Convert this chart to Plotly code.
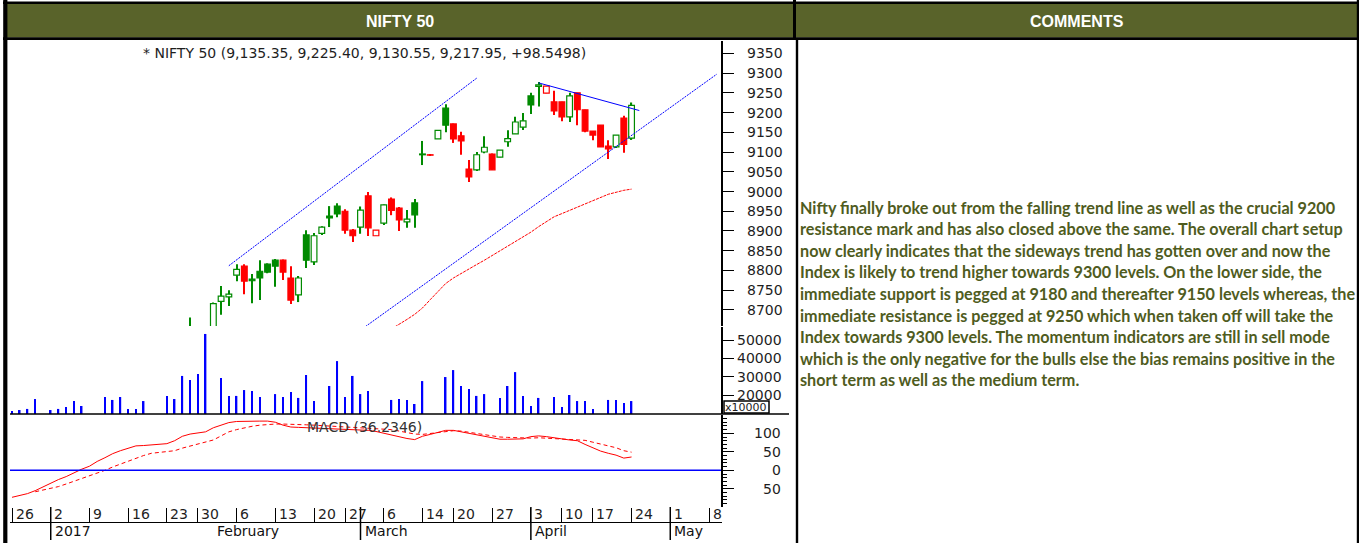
import pandas as pd
import plotly.graph_objects as go

W, H = 1359, 543

# ---------------- calendar (NSE trading days) ----------------
holidays = ["2017-01-26", "2017-02-24", "2017-03-13", "2017-04-04", "2017-04-14"]
axis_days = [d.strftime("%Y-%m-%d") for d in pd.bdate_range("2016-12-26", "2017-05-09")
             if d.strftime("%Y-%m-%d") not in holidays]
pos = {d: i for i, d in enumerate(axis_days)}

# ---------------- price data (Dec 26 2016 .. Apr 24 2017) ----------------
opens = [8114, 7915, 8047, 8036, 8120, 8210, 8196, 8202, 8226, 8282,
         8260, 8262, 8327, 8382, 8457, 8405, 8416, 8404, 8418, 8435,
         8329, 8409, 8499, 8610, 8632, 8629, 8570, 8722, 8733, 8788,
         8811, 8778, 8798, 8816, 8826, 8826, 8781, 8738, 8890, 8822,
         8894, 8938, 8963, 8950, 8902, 8910, 8989, 8888, 8920, 8981,
         8958, 8923, 8971, 9093, 9093, 9133, 9211, 9171, 9141, 9057,
         9055, 9100, 9095, 9087, 9126, 9146, 9163, 9242, 9266, 9249,
         9227, 9227, 9189, 9250, 9207, 9153, 9168, 9115, 9113, 9186,
         9135.35]
highs = [8117, 8045, 8063, 8108, 8197, 8212, 8219, 8218, 8282, 8306,
         8263, 8293, 8389, 8417, 8461, 8419, 8440, 8439, 8461, 8445,
         8404, 8480, 8612, 8681, 8655, 8640, 8719, 8761, 8750, 8816,
         8816, 8791, 8826, 8818, 8829, 8828, 8811, 8786, 8902, 8895,
         8912, 8963, 8970, 8955, 8905, 8962, 8999, 8902, 8967, 8985,
         8961, 8953, 8981, 9128, 9094, 9156, 9221, 9172, 9151, 9080,
         9100, 9140, 9096, 9105, 9155, 9189, 9199, 9250, 9277, 9267,
         9255, 9227, 9250, 9250, 9207, 9153, 9168, 9130, 9143, 9192,
         9225.40]
lows = [7894, 7905, 8021, 8026, 8115, 8134, 8148, 8180, 8224, 8233,
        8227, 8233, 8310, 8374, 8373, 8374, 8378, 8378, 8407, 8329,
        8327, 8398, 8486, 8606, 8580, 8550, 8537, 8688, 8710, 8773,
        8740, 8717, 8725, 8793, 8759, 8776, 8715, 8720, 8806, 8814,
        8890, 8910, 8935, 8893, 8872, 8893, 8887, 8888, 8915, 8940,
        8900, 8908, 8908, 9067, 9091, 9133, 9150, 9123, 9093, 9024,
        9052, 9097, 9055, 9087, 9113, 9146, 9156, 9196, 9215, 9249,
        9194, 9178, 9176, 9168, 9150, 9130, 9113, 9082, 9110, 9098,
        9130.55]
closes = [7908, 8032, 8034, 8103, 8185, 8179, 8192, 8190, 8273, 8243,
          8236, 8288, 8380, 8407, 8400, 8412, 8398, 8417, 8435, 8349,
          8391, 8475, 8602, 8641, 8632, 8561, 8716, 8735, 8740, 8803,
          8773, 8774, 8781, 8796, 8811, 8796, 8725, 8781, 8826, 8888,
          8910, 8933, 8943, 8902, 8888, 8953, 8908, 8902, 8966, 8952,
          8928, 8930, 8941, 9095, 9092, 9155, 9168, 9133, 9128, 9037,
          9093, 9112, 9055, 9105, 9134, 9176, 9179, 9219, 9270, 9267,
          9204, 9189, 9242, 9207, 9153, 9143, 9113, 9108, 9143, 9119.40,
          9217.95]
# volume (x10000 units on the axis)
volume = [11300, 11800, 12400, 17800, 9000, 11800, 12400, 13500, 16700, 14000,
          9000, 9000, 18900, 17300, 18900, 12400, 12400, 16700, 9000, 9000,
          19500, 17800, 30400, 28200, 31500, 53300, 9000, 29300, 19500, 19500,
          22700, 22200, 18900, 9000, 20500, 18900, 21600, 18400, 30900, 16700,
          9000, 24900, 38500, 18900, 30400, 20500, 22200, 9000, 9000, 17300,
          17800, 17300, 15100, 27600, 9000, 9000, 29800, 33600, 24900, 23300,
          19500, 20500, 9000, 18400, 24900, 32500, 19500, 14000, 18400, 9000,
          18900, 13500, 20000, 16700, 16700, 12400, 9000, 17300, 17300, 15700,
          16700]
macd = [-73, -69, -63, -55, -45, -33, -25, -17, -6, 3,
        11, 24, 34, 45, 53, 60, 66, 67, 68, 69,
        72, 80, 92, 98, 101, 104, 115, 123, 129, 132,
        133, 133, 133, 133, 130, 122, 117, 116, 115, 115,
        114, 114, 113, 112, 111, 109, 108, 105, 100, 95,
        91, 86, 83, 92, 97, 103, 108, 108, 104, 99,
        96, 91, 86, 84, 84, 84, 85, 91, 93, 91,
        87, 85, 82, 80, 70, 60, 52, 46, 41, 33,
        36]
signal = [None, None, None, -58, -54, -50, -44, -37, -30, -22,
          -14, -7, 0, 9, 17, 25, 33, 40, 46, 48,
          49, 53, 60, 66, 71, 77, 82, 93, 104, 110,
          115, 119, 122, 124, 125, 125, 125, 124, 123, 122,
          121, 120, 119, 118, 117, 116, 115, 114, 112, 110,
          106, 102, 98, 97, 99, 102, 105, 107, 106, 103,
          99, 95, 92, 90, 89, 88, 87, 87, 88, 87,
          86, 85, 84, 83, 81, 76, 71, 66, 61, 53,
          49]
macd_label = "MACD (36.2346)"

# moving average (red dotted), from Mar 7 onwards
ma_start = "2017-03-07"
ma_vals = [8652, 8663, 8676, 8689, 8705, 8726, 8747, 8767, 8781, 8793,
           8805, 8815, 8826, 8838, 8848, 8860, 8872, 8884, 8897, 8911,
           8923, 8936, 8944, 8952, 8961, 8968, 8977, 8986, 8993, 8998,
           9003, 9006]

# trend lines (date, price)
upper_chan_dates = ["2017-02-03", "2017-03-23"]
upper_chan_price = [8812, 9287]
lower_chan_dates = ["2017-03-01", "2017-05-09"]
lower_chan_price = [8649, 9297]
fall_line_dates = ["2017-04-05", "2017-04-25"]
fall_line_price = [9275, 9205]

# axis labels
price_ticks = list(range(8700, 9351, 50))
vol_ticks = [20000, 30000, 40000, 50000]
macd_ticks = [100, 50, 0, -50]
macd_tick_text = ["100", "50", "0", "50"]
tick_dates = ["2016-12-26", "2017-01-02", "2017-01-09", "2017-01-16", "2017-01-23",
              "2017-01-30", "2017-02-06", "2017-02-13", "2017-02-20", "2017-02-27",
              "2017-03-06", "2017-03-14", "2017-03-20", "2017-03-27", "2017-04-03",
              "2017-04-10", "2017-04-17", "2017-04-24", "2017-05-01", "2017-05-08"]
month_dates = ["2017-01-02", "2017-02-01", "2017-03-01", "2017-04-03", "2017-05-01"]
month_labels = ["2017", "February", "March", "April", "May"]
month_sep = [True, False, True, True, True]

header_left = "NIFTY 50"
header_right = "COMMENTS"
comment_lines = [
    "Nifty finally broke out from the falling trend line as well as the crucial 9200",
    "resistance mark and has also closed above the same. The overall chart setup",
    "now clearly indicates that the sideways trend has gotten over and now the",
    "Index is likely to trend higher towards 9300 levels. On the lower side, the",
    "immediate support is pegged at 9180 and thereafter 9150 levels whereas, the",
    "immediate resistance is pegged at 9250 which when taken off will take the",
    "Index towards 9300 levels. The momentum indicators are still in sell mode",
    "which is the only negative for the bulls else the bias remains positive in the",
    "short term as well as the medium term.",
]

# ---------------- styles ----------------
GREEN = "#008a00"
RED = "#ff0000"
BLUE = "#0000ff"
OLIVE = "#59632a"
TXTCOL = "#4f5c1e"
AX = "#1e1e1e"
CF = "DejaVu Sans"


def px(x):
    return x / W


def py(y):
    return 1 - y / H


fig = go.Figure()

n = len(closes)
xs = list(range(n))

# ----- candles -----
wick = {True: ([], [], []), False: ([], [], [])}
body = {(hol, up): ([], [], []) for hol in (True, False) for up in (True, False)}
for i in range(n):
    o, hi, lo, c = opens[i], highs[i], lows[i], closes[i]
    prev = closes[i - 1] if i > 0 else o
    up = c >= prev
    hollow = c > o
    wx, wb, wh = wick[up]
    wx.append(i); wb.append(lo); wh.append(hi - lo)
    bx, bb, bh = body[(hollow, up)]
    bx.append(i); bb.append(min(o, c)); bh.append(max(abs(c - o), 1.0))

for up in (True, False):
    col = GREEN if up else RED
    wx, wb, wh = wick[up]
    fig.add_trace(go.Bar(x=wx, y=wh, base=wb, width=0.15, marker=dict(color=col, line=dict(width=0)),
                         xaxis="x", yaxis="y", showlegend=False, hoverinfo="skip"))
for (hol, up), (bx, bb, bh) in body.items():
    col = GREEN if up else RED
    fig.add_trace(go.Bar(x=bx, y=bh, base=bb, width=0.74,
                         marker=dict(color="white" if hol else col, line=dict(color=col, width=1.2)),
                         xaxis="x", yaxis="y", showlegend=False, hoverinfo="skip"))

# ----- trend lines and MA -----
def line_trace(dates, prices, color, dash, width=1):
    return go.Scatter(x=[pos[d] for d in dates], y=prices, mode="lines",
                      line=dict(color=color, width=width, dash=dash),
                      xaxis="x", yaxis="y", showlegend=False, hoverinfo="skip")

fig.add_trace(line_trace(upper_chan_dates, upper_chan_price, BLUE, "2px,1px"))
fig.add_trace(line_trace(lower_chan_dates, lower_chan_price, BLUE, "2px,1px"))
fig.add_trace(line_trace(fall_line_dates, fall_line_price, BLUE, "solid"))
ma_x = list(range(pos[ma_start], pos[ma_start] + len(ma_vals)))
fig.add_trace(go.Scatter(x=ma_x, y=ma_vals, mode="lines", line=dict(color=RED, width=1, dash="3px,1px"),
                         xaxis="x", yaxis="y", showlegend=False, hoverinfo="skip"))

# ----- volume -----
fig.add_trace(go.Bar(x=xs, y=volume, width=0.2, marker=dict(color=BLUE, line=dict(width=0)),
                     xaxis="x", yaxis="y2", showlegend=False, hoverinfo="skip"))

# ----- MACD -----
fig.add_trace(go.Scatter(x=xs, y=macd, mode="lines", line=dict(color=RED, width=1),
                         xaxis="x", yaxis="y3", showlegend=False, hoverinfo="skip"))
fig.add_trace(go.Scatter(x=xs, y=signal, mode="lines", line=dict(color=RED, width=1, dash="4px,3px"),
                         xaxis="x", yaxis="y3", showlegend=False, hoverinfo="skip"))

# ---------------- shapes ----------------
shapes = []
# header background
shapes.append(dict(type="rect", xref="paper", yref="paper", x0=px(7), x1=px(1357), y0=py(37.5), y1=py(3.5),
                   fillcolor=OLIVE, line=dict(width=0), layer="below"))
def hline(y, x0, x1, w, color="black"):
    shapes.append(dict(type="line", xref="paper", yref="paper", x0=px(x0), x1=px(x1), y0=py(y), y1=py(y),
                       line=dict(color=color, width=w)))
def vline(x, y0, y1, w, color="black"):
    shapes.append(dict(type="line", xref="paper", yref="paper", x0=px(x), x1=px(x), y0=py(y0), y1=py(y1),
                       line=dict(color=color, width=w)))

hline(2.8, 3, 1359, 2.6)
hline(38.7, 3, 1359, 2.8)
vline(5.3, 0, 543, 4.2)
vline(794.5, 0, 40, 3)
vline(797, 40, 543, 2.4)
vline(1358, 0, 543, 2.4)
hline(414, 10, 789, 1.4)
hline(522.5, 10, 722, 1.2)
# x10000 box
shapes.append(dict(type="rect", xref="paper", yref="paper", x0=px(724), x1=px(769), y0=py(413), y1=py(401),
                   line=dict(color="black", width=1.5), fillcolor="white"))
# MACD zero line
shapes.append(dict(type="line", xref="paper", yref="y3", x0=px(10), x1=px(721), y0=0, y1=0,
                   line=dict(color=BLUE, width=1.5)))
# month separators
for d, s in zip(month_dates, month_sep):
    if s:
        shapes.append(dict(type="line", xref="x", yref="paper", x0=pos[d], x1=pos[d], y0=py(507), y1=py(540),
                           line=dict(color="black", width=1.5)))

# ---------------- annotations ----------------
ann = []
def text(x, y, s, size=14, color=AX, xanchor="center", family=CF, xref="paper", yref="paper", xshift=0):
    ann.append(dict(x=x, y=y, xref=xref, yref=yref, text=s, showarrow=False, xanchor=xanchor,
                    yanchor="middle", xshift=xshift, font=dict(family=family, size=size, color=color)))

text(px(400), py(21.5), "<b>%s</b>" % header_left, 16, "white", family="Liberation Sans, Arial")
text(px(1076.5), py(21.5), "<b>%s</b>" % header_right, 16, "white", family="Liberation Sans, Arial")

last = n - 1
title = "* NIFTY 50 (%s, %s, %s, %s, +98.5498)" % (
    format(opens[last], ",.2f"), format(highs[last], ",.2f"), format(lows[last], ",.2f"), format(closes[last], ",.2f"))
text(px(364), py(53), title, 14)

for v in price_ticks:
    text(px(785), v, str(v), 14, xanchor="right", yref="y")
for v in vol_ticks:
    text(px(784), v, str(v), 14, xanchor="right", yref="y2")
for v, t in zip(macd_ticks, macd_tick_text):
    text(px(783), v, t, 14, xanchor="right", yref="y3")
text(px(746.5), py(407), "x10000", 11)
text(px(305), py(426.5), macd_label, 14, color="#333333", xanchor="left")

for d in tick_dates:
    text(pos[d], py(514), str(int(d[-2:])), 14, xanchor="left", xref="x", xshift=1.5)
for d, lab in zip(month_dates, month_labels):
    text(pos[d], py(530.5), lab, 14, color="#111111", xanchor="left", xref="x", xshift=2)

for i, line in enumerate(comment_lines):
    text(px(798), py(207 + i * 21.6), "<b>%s</b>" % line, 16.2, TXTCOL, xanchor="left", family="Lato")

# ---------------- layout ----------------
yax_common = dict(side="right", anchor="x", showgrid=False, zeroline=False, showline=True,
                  linecolor="black", linewidth=1.5, ticks="outside", ticklen=11, tickwidth=1,
                  tickcolor="black", showticklabels=False, fixedrange=True)

fig.update_layout(
    width=W, height=H, margin=dict(l=0, r=0, t=0, b=0),
    paper_bgcolor="white", plot_bgcolor="white",
    barmode="overlay", showlegend=False,
    xaxis=dict(domain=[px(10), px(721)], range=[-0.258, 91.55], anchor="y3",
               showgrid=False, zeroline=False, showline=False, ticks="outside", ticklen=15,
               tickwidth=1, tickcolor="black", tickmode="array",
               tickvals=[pos[d] for d in tick_dates], showticklabels=False, fixedrange=True),
    yaxis=dict(domain=[py(326), py(41)], range=[8659.4, 9381.1], tickmode="array",
               tickvals=price_ticks, **yax_common),
    yaxis2=dict(domain=[py(414), py(327)], range=[9636, 57094], tickmode="array",
                tickvals=vol_ticks, **yax_common),
    yaxis3=dict(domain=[py(507), py(415)], range=[-99.2, 149.5], tickmode="array",
                tickvals=macd_ticks,
                minor=dict(tickmode="linear", tick0=0, dtick=10, ticklen=4, ticks="outside",
                           tickcolor="black"),
                **yax_common),
    shapes=shapes, annotations=ann,
)

fig.write_html("out.html", config={"displayModeBar": False},
               post_script="document.body.style.margin='0px';document.body.style.overflow='hidden';")
